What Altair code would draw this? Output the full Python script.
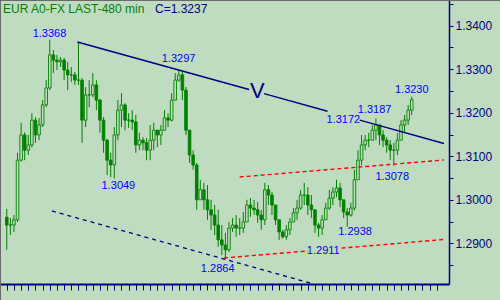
import altair as alt
import pandas as pd

# ---------------- data ----------------
opens = [1.2960,1.2942,1.2942,1.2954,1.3091,1.3149,1.3114,1.3126,1.3183,1.3149,
         1.3172,1.3218,1.3257,1.3333,1.3321,1.3317,1.3321,1.3298,1.3287,1.3287,
         1.3275,1.3275,1.3183,1.3241,1.3241,1.3264,1.3229,1.3183,1.3137,1.3091,
         1.3080,1.3149,1.3206,1.3218,1.3183,1.3183,1.3179,1.3126,1.3137,1.3131,
         1.3114,1.3137,1.3160,1.3149,1.3160,1.3188,1.3183,1.3229,1.3275,1.3287,
         1.3252,1.3160,1.3103,1.3080,1.3000,1.3023,1.3000,1.2977,1.2965,1.2942,
         1.2908,1.2896,1.2885,1.2935,1.2942,1.2935,1.2935,1.2949,1.2988,1.2981,
         1.2977,1.2965,1.2954,1.3023,1.3011,1.2988,1.2954,1.2926,1.2915,1.2931,
         1.2949,1.2970,1.2981,1.3011,1.3011,1.2988,1.2977,1.2942,1.2935,1.2954,
         1.2981,1.3004,1.3018,1.3027,1.3000,1.2972,1.2965,1.2981,1.3046,1.3091,
         1.3126,1.3137,1.3137,1.3160,1.3172,1.3149,1.3137,1.3126,1.3114,1.3114,
         1.3137,1.3172,1.3183,1.3206]
highs = [1.2979,1.2958,1.2965,1.3108,1.3177,1.3155,1.3149,1.3199,1.3190,1.3188,
         1.3229,1.3275,1.3368,1.3344,1.3333,1.3328,1.3326,1.3317,1.3305,1.3294,
         1.3363,1.3280,1.3259,1.3275,1.3291,1.3275,1.3232,1.3190,1.3140,1.3108,
         1.3167,1.3229,1.3245,1.3222,1.3199,1.3206,1.3195,1.3154,1.3144,1.3142,
         1.3172,1.3177,1.3160,1.3172,1.3206,1.3199,1.3245,1.3291,1.3297,1.3294,
         1.3259,1.3160,1.3114,1.3085,1.3046,1.3039,1.3034,1.3000,1.2988,1.2977,
         1.2942,1.2924,1.2949,1.2958,1.2965,1.2958,1.2972,1.3000,1.3004,1.3000,
         1.2995,1.2977,1.3039,1.3034,1.3018,1.2988,1.2954,1.2931,1.2942,1.2958,
         1.2981,1.3000,1.3023,1.3039,1.3029,1.3011,1.2977,1.2947,1.2965,1.2993,
         1.3023,1.3029,1.3046,1.3039,1.3000,1.2981,1.2993,1.3069,1.3114,1.3149,
         1.3149,1.3154,1.3172,1.3187,1.3172,1.3160,1.3144,1.3137,1.3131,1.3154,
         1.3183,1.3195,1.3218,1.3237]
lows = [1.2885,1.2919,1.2926,1.2949,1.3088,1.3091,1.3103,1.3120,1.3131,1.3137,
        1.3167,1.3213,1.3252,1.3291,1.3298,1.3305,1.3275,1.3252,1.3271,1.3264,
        1.3264,1.3131,1.3167,1.3213,1.3236,1.3206,1.3154,1.3108,1.3057,1.3052,
        1.3049,1.3137,1.3167,1.3160,1.3165,1.3160,1.3108,1.3114,1.3114,1.3091,
        1.3091,1.3114,1.3121,1.3126,1.3160,1.3167,1.3180,1.3229,1.3271,1.3229,
        1.3149,1.3085,1.3069,1.2977,1.3000,1.2977,1.2954,1.2931,1.2919,1.2892,
        1.2873,1.2864,1.2880,1.2926,1.2915,1.2919,1.2924,1.2949,1.2961,1.2965,
        1.2947,1.2931,1.2942,1.2988,1.2965,1.2942,1.2908,1.2911,1.2908,1.2919,
        1.2949,1.2954,1.2977,1.2988,1.2965,1.2958,1.2924,1.2915,1.2919,1.2954,
        1.2977,1.2988,1.3006,1.2983,1.2958,1.2938,1.2961,1.2975,1.3046,1.3080,
        1.3114,1.3121,1.3137,1.3137,1.3126,1.3121,1.3108,1.3091,1.3078,1.3103,
        1.3137,1.3154,1.3172,1.3195]
closes = [1.2942,1.2942,1.2954,1.3091,1.3149,1.3114,1.3126,1.3183,1.3149,1.3172,
          1.3218,1.3257,1.3333,1.3321,1.3317,1.3321,1.3298,1.3287,1.3287,1.3275,
          1.3275,1.3183,1.3241,1.3241,1.3264,1.3229,1.3183,1.3137,1.3091,1.3080,
          1.3149,1.3206,1.3218,1.3183,1.3183,1.3179,1.3126,1.3137,1.3131,1.3114,
          1.3137,1.3160,1.3149,1.3160,1.3188,1.3183,1.3229,1.3275,1.3287,1.3252,
          1.3160,1.3103,1.3080,1.3000,1.3023,1.3000,1.2977,1.2965,1.2942,1.2908,
          1.2896,1.2885,1.2935,1.2942,1.2935,1.2935,1.2949,1.2988,1.2981,1.2977,
          1.2965,1.2954,1.3023,1.3011,1.2988,1.2954,1.2926,1.2915,1.2931,1.2949,
          1.2970,1.2981,1.3011,1.3011,1.2988,1.2977,1.2942,1.2935,1.2954,1.2981,
          1.3004,1.3018,1.3027,1.3000,1.2972,1.2965,1.2981,1.3046,1.3091,1.3126,
          1.3137,1.3137,1.3160,1.3172,1.3149,1.3137,1.3126,1.3114,1.3114,1.3137,
          1.3172,1.3183,1.3206,1.3230]
bar_index = list(range(len(closes)))

# resistance line "V" (solid navy), pieces separated where labels sit
trend_i = [19.7, 67.6, 71.8, 89.5, 98.5, 122.0]
trend_p = [1.33626, 1.32535, 1.32438, 1.32034, 1.31829, 1.31294]
trend_seg = ["a", "a", "b", "b", "c", "c"]

# lower parallel (navy dashed)
chan_i = [12.6, 84.6]
chan_p = [1.29743, 1.28088]

# red dashed channel
red_up_i = [65.0, 122.0]
red_up_p = [1.30524, 1.30915]
red_lo_i = [60.6, 84.1, 93.4, 122.0]
red_lo_p = [1.28663, 1.28825, 1.28889, 1.29088]
red_lo_seg = ["a", "a", "b", "b"]

# price annotations
ann_text = ["1.3368", "1.3297", "1.3049", "1.2864", "1.3172",
            "1.3187", "1.3230", "1.3078", "1.2938", "1.2911"]
ann_i = [11.92, 47.93, 31.15, 58.85, 93.91, 102.65, 113.01, 107.55, 97.18, 88.31]
ann_p = [1.33741, 1.33166, 1.30248, 1.28341, 1.31765,
         1.31994, 1.32454, 1.30455, 1.29191, 1.28755]
v_i = [69.9]
v_p = [1.32328]

y_ticks = [1.285, 1.290, 1.295, 1.300, 1.305, 1.310, 1.315, 1.320,
           1.325, 1.330, 1.335, 1.340, 1.345]
x_ticks = list(range(0, 121, 2))

# ---------------- styles ----------------
BG = "#c0dcc0"
GREEN = "#008000"
NAVY = "#000080"
BLUE = "#0000ff"
RED = "#ff0000"
FONT = "Liberation Sans"

xscale = alt.Scale(domain=[-0.5, 122], nice=False, zero=False)
yscale = alt.Scale(domain=[1.28065, 1.34591], nice=False, zero=False)
xaxis = alt.Axis(orient="bottom", values=x_ticks, labels=False, tickSize=6,
                 domainWidth=2, title=None)
yaxis = alt.Axis(orient="right", values=y_ticks, tickSize=4, labelPadding=2,
                 labelExpr="abs(datum.value*100 - round(datum.value*100)) < 0.001 ? format(datum.value, '.4f') : ''",
                 labelOverlap=False, labelFlush=False, labelBound=False,
                 domainWidth=1.5, title=None)


def X(field):
    return alt.X(f"{field}:Q", scale=xscale, axis=xaxis)


def Y(field):
    return alt.Y(f"{field}:Q", scale=yscale, axis=yaxis)


bars = pd.DataFrame({"i": bar_index, "open": opens, "high": highs,
                     "low": lows, "close": closes})

wicks = alt.Chart(bars).mark_rule(color=GREEN, strokeWidth=1).encode(
    x=X("i"), y=Y("low"), y2="high")

bodies = alt.Chart(bars).mark_bar(width=2.6, stroke=GREEN, strokeWidth=0.9).encode(
    x=X("i"), y=Y("open"), y2="close",
    fill=alt.condition("datum.close < datum.open", alt.value(GREEN), alt.value(BG)))

trend = alt.Chart(pd.DataFrame({"i": trend_i, "p": trend_p, "s": trend_seg})).mark_line(
    color=NAVY, strokeWidth=1.4).encode(x=X("i"), y=Y("p"), detail="s:N")

chan = alt.Chart(pd.DataFrame({"i": chan_i, "p": chan_p})).mark_line(
    color=NAVY, strokeWidth=1.3, strokeDash=[4, 4]).encode(x=X("i"), y=Y("p"))

red_up = alt.Chart(pd.DataFrame({"i": red_up_i, "p": red_up_p})).mark_line(
    color=RED, strokeWidth=1.4, strokeDash=[4, 3]).encode(x=X("i"), y=Y("p"))

red_lo = alt.Chart(pd.DataFrame({"i": red_lo_i, "p": red_lo_p, "s": red_lo_seg})).mark_line(
    color=RED, strokeWidth=1.4, strokeDash=[4, 3]).encode(x=X("i"), y=Y("p"), detail="s:N")

ann = alt.Chart(pd.DataFrame({"i": ann_i, "p": ann_p, "t": ann_text})).mark_text(
    color=BLUE, font=FONT, fontSize=11, align="center", baseline="alphabetic").encode(
    x=X("i"), y=Y("p"), text="t:N")

vlab = alt.Chart(pd.DataFrame({"i": v_i, "p": v_p, "t": ["V"]})).mark_text(
    color=NAVY, font=FONT, fontSize=22, align="center", baseline="alphabetic").encode(
    x=X("i"), y=Y("p"), text="t:N")

one = alt.Data(values=[{}])
title1 = alt.Chart(one).mark_text(color=GREEN, font=FONT, fontSize=12, align="left",
                                  baseline="alphabetic").encode(
    x=alt.value(3), y=alt.value(13), text=alt.value("EUR A0-FX LAST-480 min"))
title2 = alt.Chart(one).mark_text(color=NAVY, font=FONT, fontSize=12, align="left",
                                  baseline="alphabetic").encode(
    x=alt.value(155), y=alt.value(13), text=alt.value("C=1.3237"))

border_top = alt.Chart(one).mark_rule(color="#6a6a6a", strokeWidth=1).encode(
    x=alt.value(0), x2=alt.value(500), y=alt.value(0.5))
border_left = alt.Chart(one).mark_rule(color="#6a6a6a", strokeWidth=1).encode(
    x=alt.value(0.5), y=alt.value(0), y2=alt.value(300))

chart = alt.layer(
    wicks, bodies, trend, chan, red_up, red_lo, ann, vlab,
    title1, title2, border_top, border_left
).properties(
    width=449, height=284,
    padding={"left": 0, "top": 0, "right": 51, "bottom": 16},
    autosize=alt.AutoSizeParams(type="none"),
    background=BG,
).configure_view(
    stroke="transparent"
).configure_axis(
    domainColor=NAVY, tickColor=NAVY, labelColor=NAVY, labelFont=FONT,
    labelFontSize=12, grid=False, tickWidth=1
)

chart.save("out.html", embed_options={"renderer": "svg", "actions": False})
